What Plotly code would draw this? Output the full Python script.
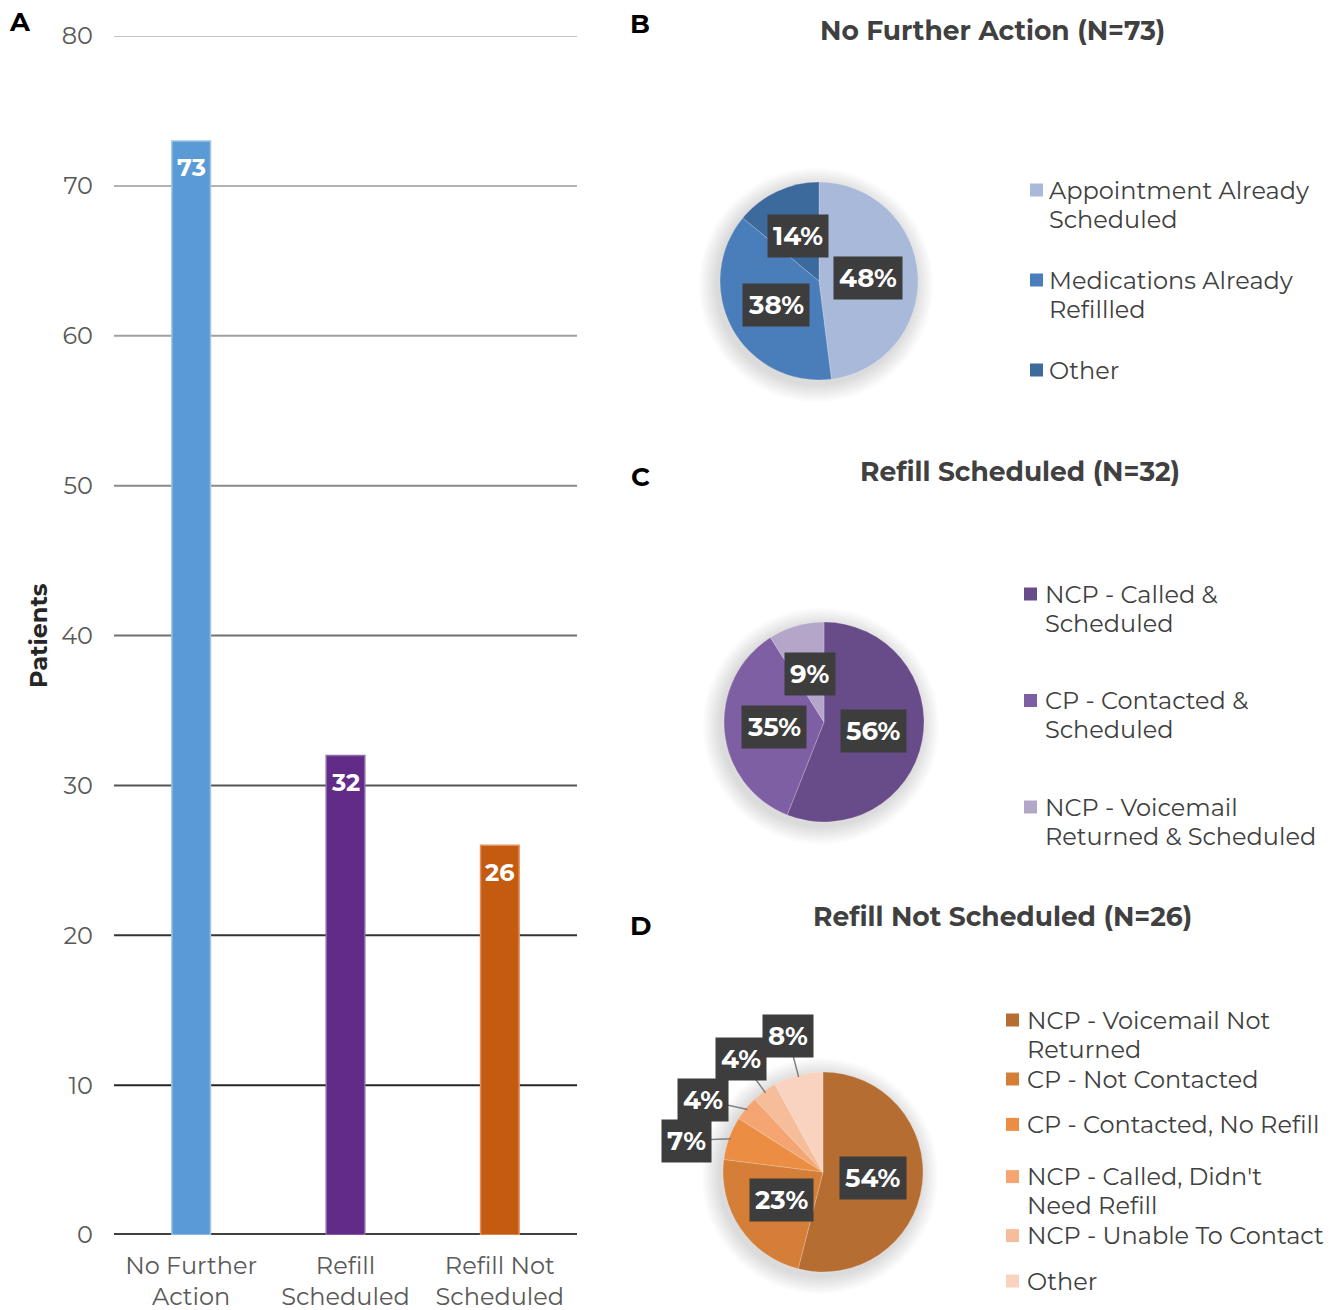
import math
import plotly.graph_objects as go

# ---------------- data ----------------
bar_categories = ["No Further<br>Action", "Refill<br>Scheduled", "Refill Not<br>Scheduled"]
bar_counts = [73, 32, 26]
y_ticks = [0, 10, 20, 30, 40, 50, 60, 70, 80]

b_title = "No Further Action (N=73)"
b_labels = ["Appointment Already<br>Scheduled", "Medications Already<br>Refillled", "Other"]
b_values = [48, 38, 14]

c_title = "Refill Scheduled (N=32)"
c_labels = ["NCP - Called &<br>Scheduled", "CP - Contacted &<br>Scheduled", "NCP - Voicemail<br>Returned & Scheduled"]
c_values = [56, 35, 9]

d_title = "Refill Not Scheduled (N=26)"
d_labels = ["NCP - Voicemail Not<br>Returned", "CP - Not Contacted", "CP - Contacted, No Refill",
            "NCP - Called, Didn't<br>Need Refill", "NCP - Unable To Contact", "Other"]
d_values = [54, 23, 7, 4, 4, 8]

# ---------------- styles ----------------
W, H = 1336, 1310
FONT = "Montserrat, Inter, 'Open Sans', sans-serif"
TXT = "#404040"
bar_colors = ["#5B9BD5", "#622B87", "#C55A11"]
bar_edges = ["#9DC3E6", "#8B6BAA", "#E0925C"]
grid_colors = ["#404040", "#262626", "#333333", "#555555", "#707070", "#8a8a8a", "#a0a0a0", "#b2b2b2", "#c4c4c4"]
b_colors = ["#A9B9D9", "#4A7EBB", "#3D6A9D"]
c_colors = ["#684C8A", "#7F5FA4", "#B4A6C9"]
d_colors = ["#B56D32", "#D57E38", "#EB8E43", "#F4A572", "#F6BD9A", "#F9D3BF"]

AX_FS = 24
LEG_FS = 24
LEG_LINE = 29
LEG_MIN_GAP = 30
LBL_FS = 26
LBL_PAD = 5
TITLE_FS = 26.5


def px(x):
    return x / W


def py(y):
    return 1 - y / H


fig = go.Figure()

# ---------------- panel A: bars ----------------
fig.add_trace(go.Bar(
    x=bar_categories, y=bar_counts, width=0.25,
    marker=dict(color=bar_colors, line=dict(color=bar_edges, width=1.5)),
    hoverinfo="x+y", showlegend=False,
))

shapes = []
for v, col in zip(y_ticks, grid_colors):
    shapes.append(dict(type="line", xref="x domain", yref="y", x0=0, x1=1, y0=v, y1=v,
                       line=dict(color=col, width=4 if v == 0 else 2), layer="below"))

annotations = []
for cat, v in zip(bar_categories, bar_counts):
    annotations.append(dict(x=cat, y=v, xref="x", yref="y", text=f"<b>{v}</b>", showarrow=False,
                            xanchor="center", yanchor="middle", yshift=-27,
                            font=dict(family=FONT, size=AX_FS, color="white")))

annotations.append(dict(x=px(38), y=py(636), xref="paper", yref="paper", text="<b>Patients</b>",
                        xanchor="center", yanchor="middle", textangle=-90, showarrow=False,
                        font=dict(family=FONT, size=AX_FS, color="#262626")))


def label_box(text):
    w = 0.72 * LBL_FS * len(text) + 2 * LBL_PAD
    h = LBL_FS * 1.15 + 2 * LBL_PAD
    return w, h


# ---------------- pies ----------------
pies = [
    dict(title=b_title, labels=b_labels, values=b_values, colors=b_colors, cx=819, cy=281, r=99,
         title_x=992, title_y=31, letter="B", letter_y=24,
         leg_mx=1030, leg_tx=1048, leg_y0=190, leg_pitch=90),
    dict(title=c_title, labels=c_labels, values=c_values, colors=c_colors, cx=824, cy=722, r=100,
         title_x=1020, title_y=471, letter="C", letter_y=477,
         leg_mx=1024, leg_tx=1044, leg_y0=594, leg_pitch=106.5),
    dict(title=d_title, labels=d_labels, values=d_values, colors=d_colors, cx=823, cy=1172, r=100,
         title_x=1002, title_y=916, letter="D", letter_y=926,
         leg_mx=1006, leg_tx=1026, leg_y0=1020, leg_pitch=52.2),
]

for p in pies:
    cx, cy, r = p["cx"], p["cy"], p["r"]
    # soft shadow behind the pie (many faint rings)
    for k in range(18, 0, -2):
        shapes.append(dict(type="circle", xref="paper", yref="paper",
                           x0=px(cx - r - k - 3), x1=px(cx + r + k - 3),
                           y0=py(cy + r + k + 4), y1=py(cy - r - k + 4),
                           fillcolor="rgba(0,0,0,0.016)", line=dict(width=0), layer="below"))
    fig.add_trace(go.Pie(
        labels=[l.replace("<br>", " ") for l in p["labels"]], values=p["values"],
        marker=dict(colors=p["colors"], line=dict(color="rgba(255,255,255,0.4)", width=0.5)),
        domain=dict(x=[px(cx - r), px(cx + r)], y=[py(cy + r), py(cy - r)]),
        sort=False, direction="clockwise", rotation=0, textinfo="none", showlegend=False,
        hoverinfo="label+percent",
    ))
    total = sum(p["values"])
    cum = 0
    slices = []
    for v in p["values"]:
        frac = v / total
        mid = (cum + frac / 2) * 2 * math.pi
        cum += frac
        slices.append((v, frac, mid))
    outside_mode = len(p["values"]) > 3
    placed = []
    for v, frac, mid in slices:
        text = f"{v}%"
        if outside_mode and frac < 0.1:
            continue
        lx = cx + math.sin(mid) * r * 0.5
        ly = cy - math.cos(mid) * r * 0.5
        annotations.append(dict(x=px(lx), y=py(ly), xref="paper", yref="paper", text=f"<b>{text}</b>",
                                xanchor="center", yanchor="middle", showarrow=False,
                                bgcolor="#3d3d3d", borderpad=LBL_PAD,
                                font=dict(family=FONT, size=LBL_FS, color="white")))
    R_OUT = 1.4 * r
    for v, frac, mid in reversed(slices):
        if not (outside_mode and frac < 0.1):
            continue
        text = f"{v}%"
        w, h = label_box(text)
        lx = cx + math.sin(mid) * R_OUT
        ly = cy - math.cos(mid) * R_OUT
        moved = True
        while moved:
            moved = False
            for (ox, oy, ow, oh) in placed:
                if abs(lx - ox) < (w + ow) / 2 and abs(ly - oy) < (h + oh) / 2:
                    ly = oy + (h + oh) / 2 + 1
                    dy = ly - cy
                    lx = cx - math.sqrt(max(R_OUT ** 2 - dy ** 2, 0))
                    moved = True
        placed.append((lx, ly, w, h))
        ex = cx + math.sin(mid) * r * 0.98
        ey = cy - math.cos(mid) * r * 0.98
        shapes.append(dict(type="line", xref="paper", yref="paper",
                           x0=px(ex), y0=py(ey), x1=px(lx), y1=py(ly),
                           line=dict(color="#7f7f7f", width=1.5), layer="above"))
        annotations.append(dict(x=px(lx), y=py(ly), xref="paper", yref="paper", text=f"<b>{text}</b>",
                                xanchor="center", yanchor="middle", showarrow=False,
                                bgcolor="#3d3d3d", borderpad=LBL_PAD,
                                font=dict(family=FONT, size=LBL_FS, color="white")))
    annotations.append(dict(x=px(p["title_x"]), y=py(p["title_y"]), xref="paper", yref="paper",
                            xanchor="center", yanchor="middle",
                            text=f"<b>{p['title']}</b>", showarrow=False,
                            font=dict(family=FONT, size=TITLE_FS, color=TXT)))
    annotations.append(dict(x=px(640), y=py(p["letter_y"]), xref="paper", yref="paper",
                            xanchor="center", yanchor="middle",
                            text=f"<b>{p['letter']}</b>", showarrow=False,
                            font=dict(family=FONT, size=26, color="black")))
    # legend (square marker + text lines)
    prev_last = -1e9
    for i, (lab, col) in enumerate(zip(p["labels"], p["colors"])):
        yc = max(p["leg_y0"] + i * p["leg_pitch"], prev_last + LEG_MIN_GAP)
        shapes.append(dict(type="rect", xref="paper", yref="paper",
                           x0=px(p["leg_mx"]), x1=px(p["leg_mx"] + 13), y0=py(yc + 6.5), y1=py(yc - 6.5),
                           fillcolor=col, line=dict(width=0), layer="above"))
        lines = lab.split("<br>")
        for k, line in enumerate(lines):
            annotations.append(dict(x=px(p["leg_tx"]), y=py(yc + k * LEG_LINE), xref="paper", yref="paper",
                                    xanchor="left", yanchor="middle", align="left", text=line,
                                    showarrow=False, borderpad=0,
                                    font=dict(family=FONT, size=LEG_FS, color=TXT)))
        prev_last = yc + (len(lines) - 1) * LEG_LINE

annotations.append(dict(x=px(20), y=py(22), xref="paper", yref="paper", text="<b>A</b>",
                        xanchor="center", yanchor="middle",
                        showarrow=False, font=dict(family=FONT, size=26, color="black")))

fig.update_layout(
    width=W, height=H, autosize=False,
    margin=dict(l=0, r=0, t=0, b=0),
    paper_bgcolor="white", plot_bgcolor="white",
    font=dict(family=FONT, color=TXT),
    shapes=shapes, annotations=annotations,
    xaxis=dict(domain=[px(114), px(577)], showgrid=False, showline=False, zeroline=False,
               ticklabelstandoff=14,
               tickfont=dict(family=FONT, size=AX_FS, color="#595959"), automargin=False, fixedrange=True),
    yaxis=dict(domain=[py(1235), py(36)], range=[0, 80], tickvals=y_ticks, showgrid=False,
               zeroline=False, showline=False, ticks="", ticklabelstandoff=20,
               tickfont=dict(family=FONT, size=AX_FS, color="#595959"), automargin=False, fixedrange=True),
    bargap=0.75,
)

fig.write_html("out.html")
